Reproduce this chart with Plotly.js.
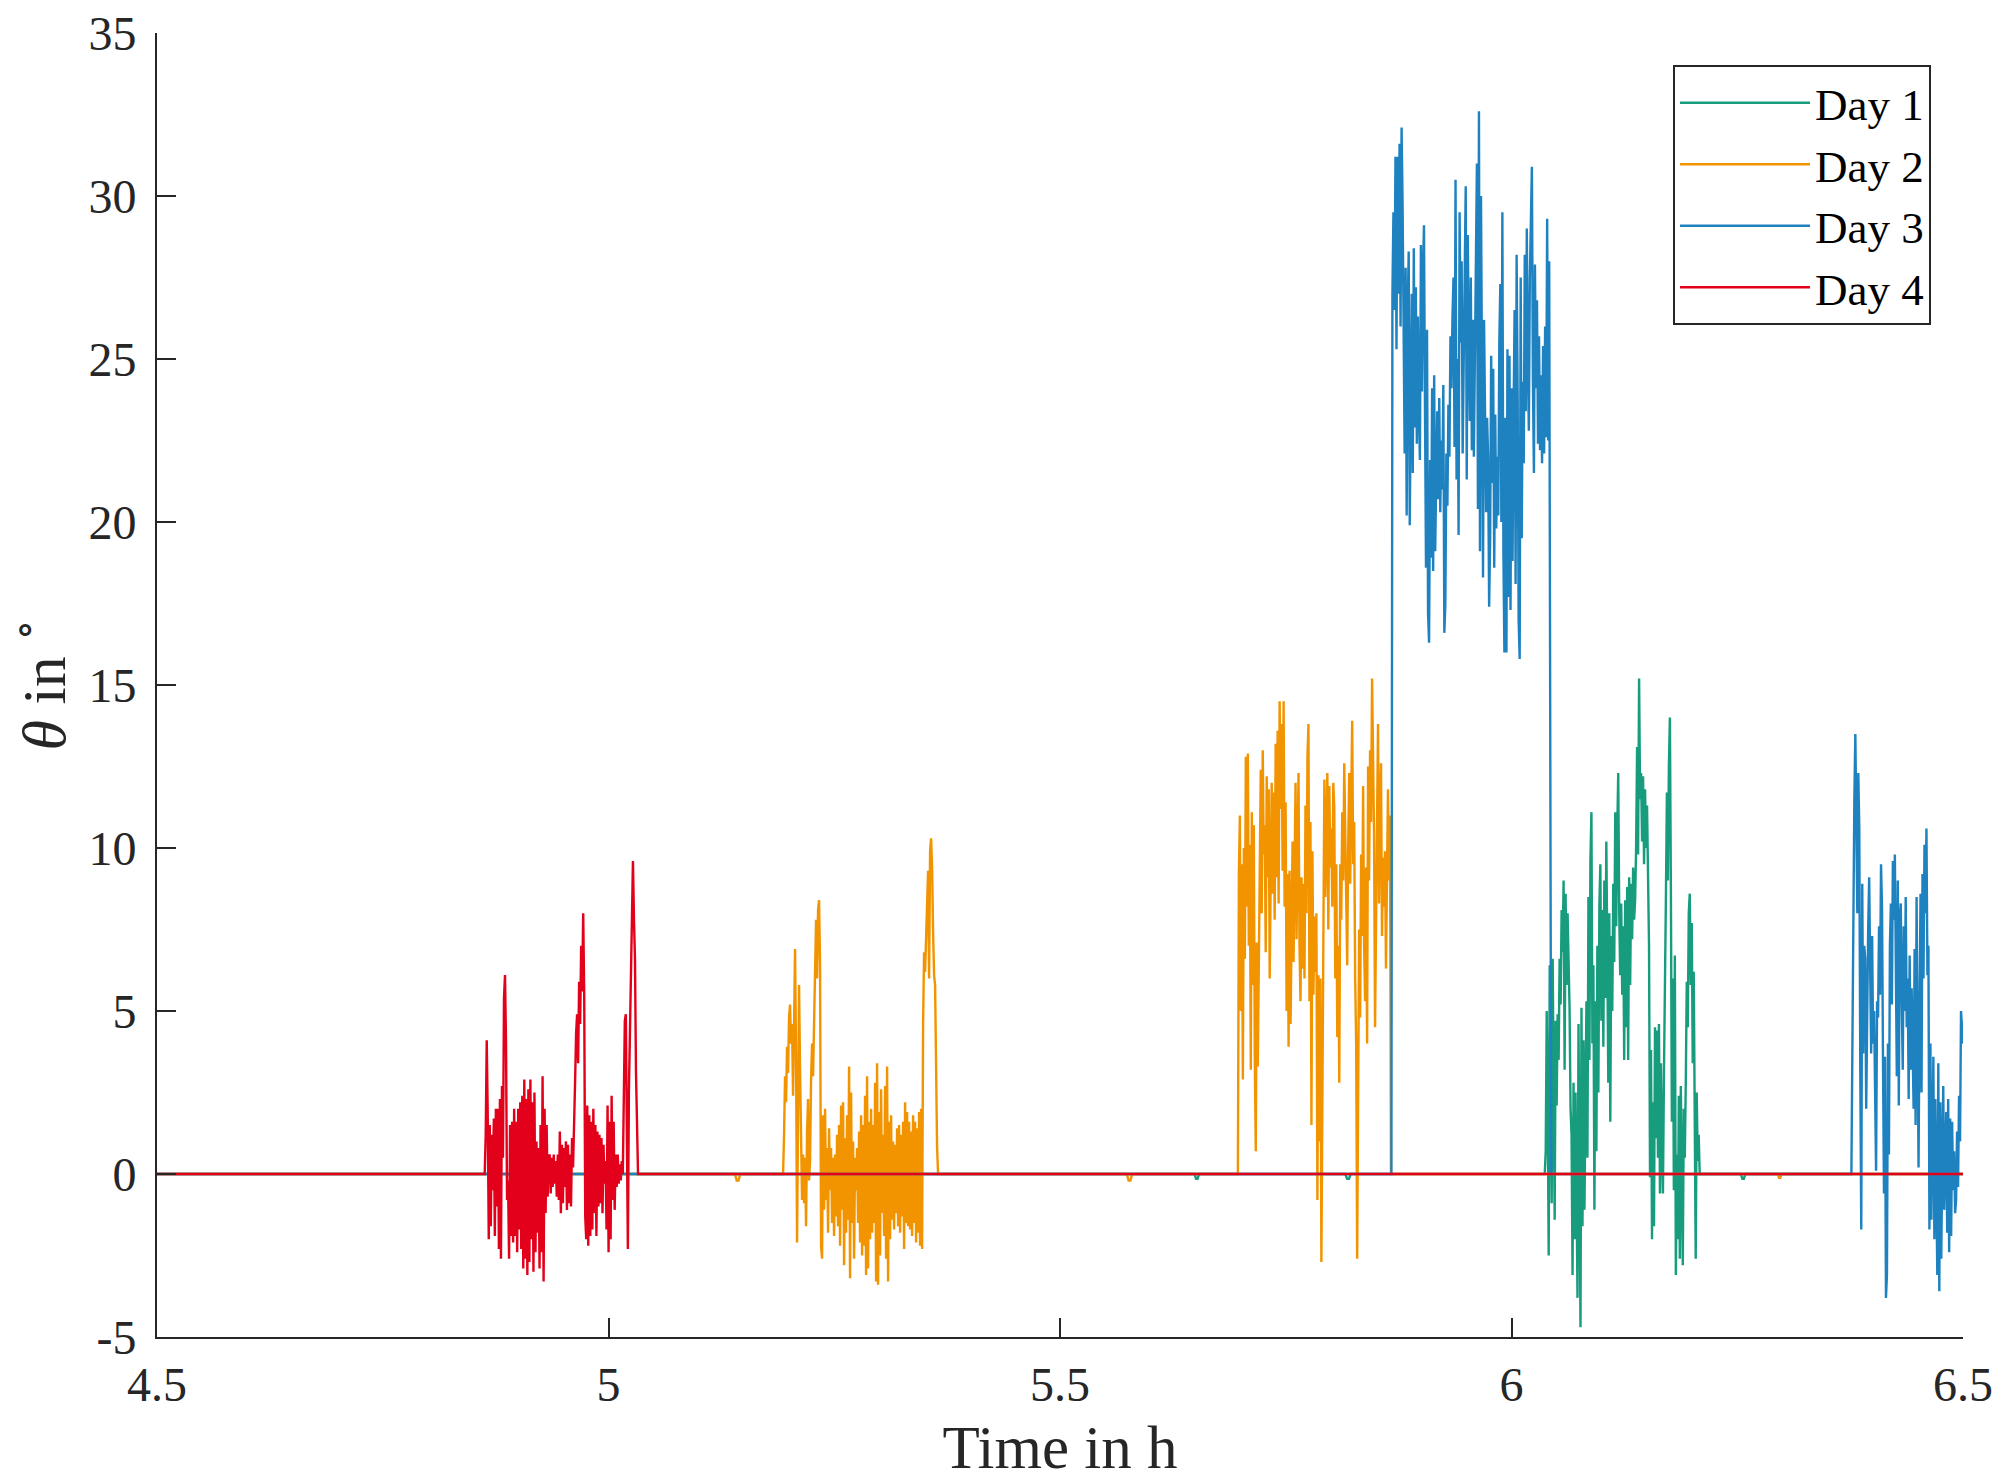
<!DOCTYPE html>
<html>
<head>
<meta charset="utf-8">
<script src="https://cdn.plot.ly/plotly-3.0.1.min.js"></script>
<style>
  html, body { margin: 0; padding: 0; background: #ffffff; }
  #chart { width: 2011px; height: 1481px; }
</style>
</head>
<body>
<div id="chart"></div>
<script>
// ---------------- DATA ----------------
const seriesNames = ["Day 1", "Day 2", "Day 3", "Day 4"];
const timeStart = 4.5;     // h, start of recording window
const timeEnd = 6.5;       // h, end of recording window
const restAngle = 0;       // degrees, value when idle

const xTickVals = [4.5, 5, 5.5, 6, 6.5];
const xTickText = ["4.5", "5", "5.5", "6", "6.5"];
const yTickVals = [-5, 0, 5, 10, 15, 20, 25, 30, 35];
const yTickText = ["-5", "0", "5", "10", "15", "20", "25", "30", "35"];

// Day 1 (green) active burst, 6.037 h .. 6.208 h
const day1BurstTime = [6.0368, 6.2084];
const day1Burst = [0.0,0.7,5.0,2.0,-2.5,6.4,1.5,-0.9,6.6,2.5,-1.4,4.7,2.1,4.9,3.5,6.6,5.2,8.1,6.8,9.0,
  3.2,8.6,5.8,8.0,6.5,5.1,2.0,1.2,-3.1,2.8,-2.0,2.5,-0.5,-3.8,4.6,-2.9,-4.7,5.1,-1.6,4.1,
  -1.1,2.2,5.3,0.5,8.5,3.5,9.6,11.1,4.0,6.4,-1.1,5.3,0.7,7.0,2.5,8.2,9.5,4.7,8.1,3.9,
  9.0,5.4,10.2,6.7,2.8,8.0,1.6,7.3,5.0,8.9,6.5,11.1,7.6,10.5,12.3,8.0,6.1,8.3,5.5,7.6,
  3.5,8.4,4.5,8.8,3.5,9.1,5.8,8.9,7.2,9.4,7.8,8.4,10.0,13.1,9.8,15.2,11.5,12.3,10.2,12.2,
  9.5,11.8,10.0,11.3,9.0,7.0,-0.1,3.8,-2.0,2.2,-1.6,4.5,1.1,4.4,0.5,4.6,-0.6,3.4,1.0,-0.6,
  3.0,5.1,8.5,11.7,9.0,12.5,14.0,8.8,1.6,6.0,-0.5,6.7,-3.1,0.6,-2.0,2.4,-2.6,2.7,-1.0,-2.8,
  2.0,0.5,2.8,5.9,4.5,8.0,8.6,5.8,7.7,3.4,6.2,0.8,-2.6,2.5,0.4,1.2,0.0];
// Day 1 small idle dips
const day1DipTimes = [[5.649, 5.654], [5.816, 5.822], [6.254, 6.259]];
const day1DipValues = [[-0.15, -0.15], [-0.15, -0.15], [-0.15, -0.15]];

// Day 2 (orange) first burst, 5.193 h .. 5.365 h
const day2Burst1Time = [5.1933, 5.3650];
const day2Burst1 = [0.0,1.2,3.0,2.2,3.9,3.1,4.8,5.2,4.0,4.6,2.4,4.5,6.9,3.6,-2.1,1.7,5.8,3.2,0.7,-0.8,
  0.6,-0.9,0.5,-1.6,1.3,2.3,-0.2,0.4,2.9,4.0,3.0,5.0,6.1,7.8,6.0,8.1,8.4,6.4,-2.2,-2.6,
  1.8,-1.1,2.0,-0.8,0.8,-1.8,1.4,-0.5,0.8,-1.5,0.5,-1.9,0.6,-1.3,1.2,-1.6,1.5,-2.2,2.1,-1.1,
  2.2,-2.8,1.1,-1.8,1.8,-1.4,3.3,-3.2,2.5,-1.5,1.0,-2.6,0.5,-0.5,0.8,-1.5,1.3,-2.1,1.8,-2.5,
  1.5,-2.2,2.4,-3.1,3.0,-2.9,1.6,-2.0,2.0,-1.8,1.5,-1.5,2.8,-3.3,3.4,-3.4,1.9,-2.5,2.6,-1.2,
  1.2,-1.9,2.7,-2.6,3.3,-3.3,1.6,-2.0,1.8,-1.4,1.0,-1.7,0.9,-1.2,1.4,-1.6,1.5,-1.8,1.2,-1.3,
  1.6,-2.3,2.2,-1.5,1.9,-1.6,1.6,-1.7,1.3,-1.9,1.8,-1.5,1.6,-2.1,1.4,-1.8,1.9,-2.2,2.0,-2.3,
  4.6,6.8,6.2,7.1,8.0,9.3,6.0,9.9,10.3,9.4,7.4,6.1,5.8,3.0,0.8,0.0];
// Day 2 (orange) second burst, 5.697 h .. 5.867 h
const day2Burst2Time = [5.6970, 5.8665];
const day2Burst2 = [0.0,9.2,11.0,5.0,9.5,2.9,10.0,6.6,12.8,8.2,12.9,7.0,10.1,3.2,11.1,5.8,10.7,3.6,0.7,7.1,
  3.3,6.2,10.6,12.4,8.0,13.0,9.8,10.7,6.8,12.2,9.1,11.8,6.0,10.5,12.0,8.6,11.7,7.8,13.2,9.1,
  13.6,8.3,14.5,11.2,13.8,9.3,14.5,8.2,11.4,5.0,9.2,3.9,9.3,4.6,7.2,10.2,6.5,9.8,12.0,7.2,
  11.1,12.3,7.0,5.3,9.1,6.3,8.9,6.0,11.3,8.0,12.8,13.8,5.3,10.8,1.5,9.9,5.5,7.9,6.2,8.0,
  -0.8,6.1,1.0,6.0,-2.7,2.4,7.7,12.1,8.5,11.5,12.3,7.5,11.9,9.4,10.6,8.2,12.0,11.2,6.0,9.5,
  4.2,7.0,2.8,9.5,7.8,11.1,9.0,12.6,10.5,7.3,6.4,10.1,12.3,8.9,12.6,13.9,9.5,10.8,6.0,4.0,
  -2.6,3.0,7.5,4.8,9.8,7.3,11.9,7.0,5.3,9.4,4.0,12.5,9.0,13.0,10.8,15.2,12.3,10.4,4.5,8.9,
  10.8,13.8,8.3,11.1,12.6,7.3,9.7,8.2,9.9,6.3,10.4,11.8,9.0,11.0,0.0];
// Day 2 small idle dips
const day2DipTimes = [[5.140, 5.146], [5.574, 5.580], [6.295, 6.299]];
const day2DipValues = [[-0.2, -0.2], [-0.2, -0.2], [-0.12, -0.12]];

// Day 3 (blue) first burst, 5.867 h .. 6.044 h
const day3Burst1Time = [5.8670, 6.0440];
const day3Burst1 = [0.0,27.0,29.5,26.5,31.2,25.3,31.2,27.0,31.6,26.0,32.1,29.7,24.4,22.1,27.8,20.2,26.5,28.3,19.9,23.0,
  27.0,21.5,28.4,22.9,27.2,22.4,26.3,23.5,21.9,28.5,24.0,27.6,29.1,23.4,18.6,25.9,17.2,16.3,21.9,18.9,
  24.1,18.5,24.5,19.1,21.0,23.4,20.7,23.8,20.3,22.5,21.0,24.2,16.6,17.5,22.1,20.5,23.6,22.0,25.7,24.1,
  26.3,27.5,22.3,30.5,21.3,25.0,19.6,29.5,25.5,28.0,22.1,25.3,29.1,30.3,21.3,28.8,25.5,23.1,27.5,22.2,
  26.2,22.0,25.0,28.5,31.0,20.4,32.6,19.1,30.0,24.5,18.3,26.2,21.8,20.3,23.2,22.0,17.4,19.5,25.1,21.2,
  24.7,18.6,23.3,19.8,22.0,20.2,25.5,27.3,20.0,29.5,19.1,16.0,23.2,16.0,25.3,17.7,25.1,17.3,24.1,18.8,
  23.2,26.5,18.1,28.2,24.0,17.0,15.8,27.5,19.5,24.3,21.8,28.2,23.4,29.0,25.0,22.8,27.5,30.0,30.9,24.3,
  21.5,27.9,24.1,26.8,22.4,25.7,22.2,24.5,21.8,25.4,22.1,26.0,22.6,29.3,22.5,28.0,14.0,0.0];
// Day 3 (blue) second burst, 6.376 h .. 6.5 h
const day3Burst2Time = [6.3764, 6.5000];
const day3Burst2 = [0.0,4.0,9.2,11.5,13.5,10.1,8.0,12.3,10.6,3.2,-1.7,8.9,3.7,7.0,6.6,2.0,5.8,7.5,9.1,6.1,
  3.7,7.3,4.0,5.0,2.0,0.1,5.3,4.8,7.6,5.5,9.5,8.2,3.5,-0.6,3.6,-3.8,-3.1,4.0,0.6,7.0,
  8.3,5.2,9.6,7.8,9.8,5.0,3.0,9.0,2.1,7.8,8.3,5.3,3.2,7.6,5.0,8.5,4.5,6.0,2.3,6.7,
  3.2,5.7,4.0,2.0,6.9,1.5,8.5,4.5,0.2,5.0,8.6,2.5,9.2,6.0,10.1,8.0,10.6,6.1,7.0,-1.7,
  4.0,-1.4,2.0,3.6,-2.0,2.3,-0.5,-3.1,3.4,-3.6,2.2,-2.6,0.5,2.7,-1.1,1.0,1.9,-1.8,2.3,-2.4,
  1.7,-1.9,1.6,-0.5,0.7,-1.2,-0.8,1.3,-0.4,2.4,1.0,5.0,4.5,4.0];

// Day 4 (red) active burst, 4.863 h .. 5.033 h
const day4BurstTime = [4.8629, 5.0327];
const day4Burst = [0.0,1.2,4.1,1.8,-2.0,1.5,-1.6,1.2,-0.5,1.7,-1.9,2.0,-1.0,2.0,-2.3,2.3,-2.6,2.7,0.5,5.4,
  6.1,4.0,-0.8,-0.2,-2.6,1.5,-1.9,1.6,-2.1,2.0,-1.9,1.6,-2.4,2.0,-1.7,2.2,-2.3,2.4,-2.9,2.9,
  -2.6,2.3,-3.1,2.6,-2.7,2.9,-2.0,2.2,-3.0,2.5,-2.4,1.0,-1.8,0.8,-2.9,1.5,-2.4,3.0,-3.3,2.0,
  -1.2,1.5,-0.7,0.5,0.6,-0.6,0.5,-0.4,0.6,-0.3,0.4,-0.7,0.6,-0.8,1.3,-1.2,0.9,-0.9,0.8,-0.4,
  1.0,-1.1,0.9,-0.9,0.6,-1.0,1.1,0.2,1.2,2.8,4.3,4.9,3.4,5.9,4.6,7.0,5.6,8.0,5.5,-1.3,
  -2.0,2.1,-2.2,1.8,-1.9,1.6,-1.7,2.0,-1.2,1.5,-1.9,1.3,-1.0,1.2,-0.9,1.1,-1.2,0.9,-0.3,0.4,
  -1.7,2.1,-2.4,1.6,-2.0,2.4,-0.8,1.6,-1.1,0.6,-0.4,0.6,-0.3,0.3,-0.2,0.4,0.0,2.3,4.7,4.9,
  0.5,-2.3,2.5,4.3,6.7,8.6,9.6,7.8,6.6,3.1,0.8,0.0];

const seriesColors = ["#179c7d", "#f29400", "#1f82c0", "#e2001a"];

// ---------------- BUILD TRACES ----------------
function burstTimes(range, n) {
  const out = [];
  for (let i = 0; i < n; i++) out.push(range[0] + (range[1] - range[0]) * i / (n - 1));
  return out;
}
// segments: list of {t:[start,end], v:[...]} in time order
function buildSeries(segments) {
  const x = [timeStart], y = [restAngle];
  segments.forEach(s => {
    const ts = burstTimes(s.t, s.v.length);
    for (let i = 0; i < ts.length; i++) { x.push(ts[i]); y.push(s.v[i]); }
  });
  if (x[x.length - 1] < timeEnd) { x.push(timeEnd); y.push(restAngle); }
  return {x, y};
}
function dipSegments(times, values) {
  return times.map((t, i) => ({t: t, v: [restAngle, ...values[i], restAngle]}));
}

const day1 = buildSeries([
  ...dipSegments(day1DipTimes.slice(0, 2), day1DipValues.slice(0, 2)),
  {t: day1BurstTime, v: day1Burst},
  ...dipSegments(day1DipTimes.slice(2), day1DipValues.slice(2))
]);
const day2 = buildSeries([
  ...dipSegments(day2DipTimes.slice(0, 1), day2DipValues.slice(0, 1)),
  {t: day2Burst1Time, v: day2Burst1},
  ...dipSegments(day2DipTimes.slice(1, 2), day2DipValues.slice(1, 2)),
  {t: day2Burst2Time, v: day2Burst2},
  ...dipSegments(day2DipTimes.slice(2), day2DipValues.slice(2))
]);
const day3 = buildSeries([
  {t: day3Burst1Time, v: day3Burst1},
  {t: day3Burst2Time, v: day3Burst2}
]);
const day4 = buildSeries([
  {t: day4BurstTime, v: day4Burst}
]);

const allSeries = [day1, day2, day3, day4];
const traces = allSeries.map((s, i) => ({
  type: "scatter",
  mode: "lines",
  name: seriesNames[i],
  x: s.x,
  y: s.y,
  line: {color: seriesColors[i], width: 2.4}
}));

const fontFamily = "'Liberation Serif', 'DejaVu Serif', serif";
const ink = "#262626";

const layout = {
  width: 2011,
  height: 1481,
  paper_bgcolor: "#ffffff",
  plot_bgcolor: "#ffffff",
  margin: {l: 157, r: 48, t: 33, b: 144},
  font: {family: fontFamily, color: ink, size: 46},
  showlegend: true,
  legend: {
    x: 0.9823, y: 0.9755, xanchor: "right", yanchor: "top",
    bgcolor: "#ffffff",
    bordercolor: ink,
    borderwidth: 2,
    font: {family: fontFamily, size: 45, color: "#000000"},
    itemwidth: 130,
    tracegroupgap: 0
  },
  xaxis: {
    range: [timeStart, timeEnd],
    tickvals: xTickVals,
    ticktext: xTickText,
    ticks: "inside",
    ticklen: 19,
    tickwidth: 2,
    tickcolor: ink,
    showline: true,
    linecolor: ink,
    linewidth: 2,
    mirror: false,
    showgrid: false,
    zeroline: false,
    ticklabelstandoff: 4,
    tickfont: {family: fontFamily, size: 48, color: ink},
    title: {text: "Time in h", font: {family: fontFamily, size: 61, color: ink}, standoff: 20}
  },
  yaxis: {
    range: [-5, 35],
    tickvals: yTickVals,
    ticktext: yTickText,
    ticks: "inside",
    ticklen: 19,
    tickwidth: 2,
    tickcolor: ink,
    showline: true,
    linecolor: ink,
    linewidth: 2,
    mirror: false,
    showgrid: false,
    zeroline: false,
    ticklabelstandoff: 9,
    tickfont: {family: fontFamily, size: 48, color: ink},
    title: {text: "<i>θ</i> in <sup>∘</sup>", font: {family: fontFamily, size: 62, color: ink}, standoff: 10}
  }
};

Plotly.newPlot("chart", traces, layout, {staticPlot: true, displayModeBar: false});
</script>
</body>
</html>
